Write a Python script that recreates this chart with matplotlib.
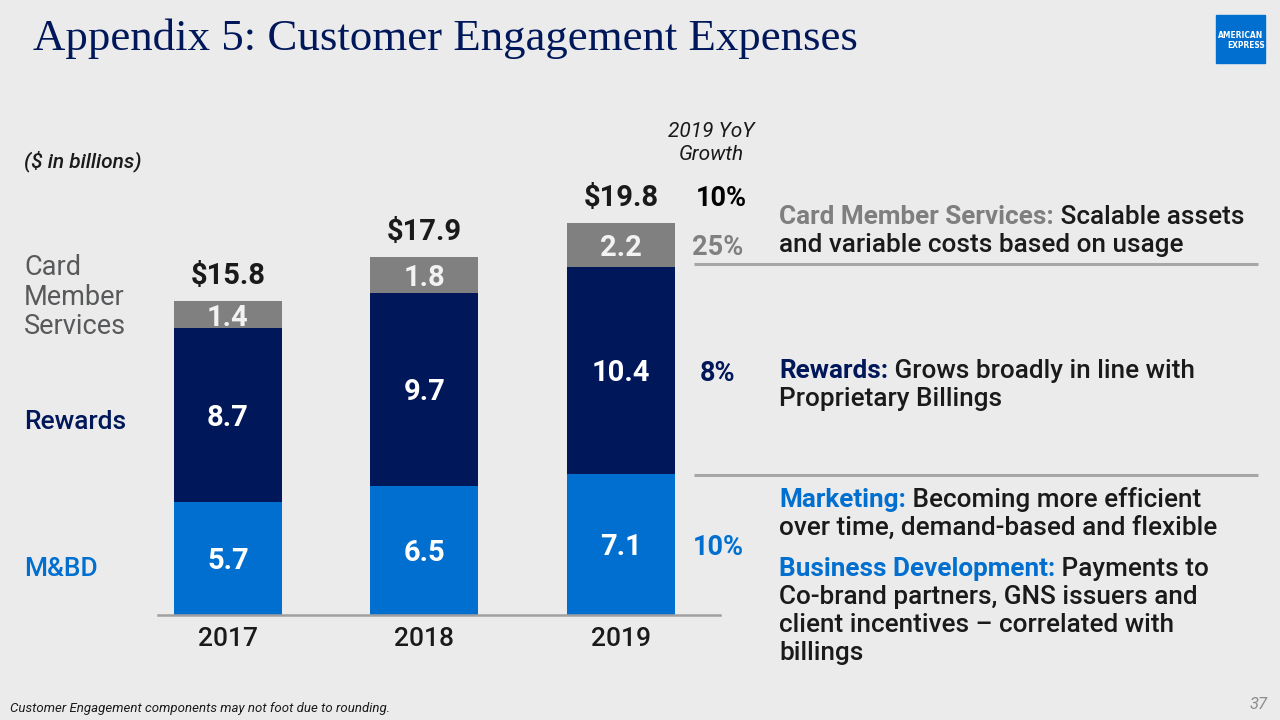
import matplotlib
matplotlib.use("Agg")
import matplotlib.pyplot as plt
from matplotlib.patches import Rectangle

# ---------------- data ----------------
years = ["2017", "2018", "2019"]
mbd = [5.7, 6.5, 7.1]
rewards = [8.7, 9.7, 10.4]
cms = [1.4, 1.8, 2.2]
totals = [15.8, 17.9, 19.8]
growth_total = "10%"
growth_cms = "25%"
growth_rewards = "8%"
growth_mbd = "10%"

# ---------------- style ----------------
BG = "#EBEBEB"
NAVY = "#00175A"
BLUE = "#006FCF"
GREY = "#808080"
DARK = "#1A1A1A"
LGREY = "#58595B"
FONT = ["Roboto", "DejaVu Sans"]
plt.rcParams["font.family"] = FONT

fig = plt.figure(figsize=(12.8, 7.2), dpi=100)
fig.patch.set_facecolor(BG)

# bar axes (pixel layout: baseline at y=615, 19.9 px per unit)
PX_PER_UNIT = 19.9
YMAX = 25
ax = fig.add_axes([158 / 1280, 105 / 720, 562 / 1280, YMAX * PX_PER_UNIT / 720])
ax.set_facecolor("none")
x = list(range(len(years)))
w = 0.55
bot2 = [a + b for a, b in zip(mbd, rewards)]
ax.bar(x, mbd, width=w, color=BLUE, zorder=2)
ax.bar(x, rewards, width=w, bottom=mbd, color=NAVY, zorder=2)
ax.bar(x, cms, width=w, bottom=bot2, color=GREY, zorder=2)
ax.set_xlim(-0.356, -0.356 + 562 / 196.5)
ax.set_ylim(0, YMAX)
for s in ["top", "left", "right"]:
    ax.spines[s].set_visible(False)
ax.spines["bottom"].set_color("#A0A0A0")
ax.spines["bottom"].set_linewidth(1.8)
ax.set_yticks([])
ax.set_xticks(x)
ax.set_xticklabels(years, fontsize=19, color=DARK, fontweight="medium")
ax.tick_params(axis="x", length=0, pad=9)

for i in x:
    ax.text(i, mbd[i] / 2, f"{mbd[i]:.1f}", ha="center", va="center_baseline",
            color="white", fontsize=21, fontweight="bold", zorder=3)
    ax.text(i, mbd[i] + rewards[i] / 2, f"{rewards[i]:.1f}", ha="center",
            va="center_baseline", color="white", fontsize=21, fontweight="bold", zorder=3)
    ax.text(i, bot2[i] + cms[i] / 2, f"{cms[i]:.1f}", ha="center",
            va="center_baseline", color="#F2F2F2", fontsize=21, fontweight="bold", zorder=3)
    top = bot2[i] + cms[i]
    ax.annotate(f"${totals[i]:.1f}", xy=(i, top), xytext=(0, 17),
                textcoords="offset pixels", ha="center", va="baseline",
                fontsize=21, fontweight="bold", color=DARK)

# growth column for 2019
gi = 2
gx_off = 97
ax.annotate(growth_total, xy=(gi, bot2[gi] + cms[gi]), xytext=(gx_off + 3, 17),
            textcoords="offset pixels", ha="center", va="baseline",
            fontsize=19.5, fontweight="bold", color="black")
ax.annotate(growth_cms, xy=(gi, bot2[gi] + cms[gi] / 2), xytext=(gx_off, 0),
            textcoords="offset pixels", ha="center", va="center_baseline",
            fontsize=19.5, fontweight="bold", color=GREY)
ax.annotate(growth_rewards, xy=(gi, mbd[gi] + rewards[gi] / 2), xytext=(gx_off, 0),
            textcoords="offset pixels", ha="center", va="center_baseline",
            fontsize=19.5, fontweight="bold", color=NAVY)
ax.annotate(growth_mbd, xy=(gi, mbd[gi] / 2), xytext=(gx_off, 0),
            textcoords="offset pixels", ha="center", va="center_baseline",
            fontsize=19.5, fontweight="bold", color=BLUE)

# ---------------- overlay in pixel coords ----------------
ov = fig.add_axes([0, 0, 1, 1])
ov.set_xlim(0, 1280)
ov.set_ylim(720, 0)
ov.axis("off")
ov.set_facecolor("none")

# title
ov.text(33, 50, "Appendix 5: Customer Engagement Expenses", fontsize=32.3,
        family=["Liberation Serif", "DejaVu Serif"], color=NAVY, va="baseline",
        ha="left")

# logo
ov.add_patch(Rectangle((1216, 15), 49, 48, color="#016FD0", zorder=5))
ov.text(1240.5, 36, "AMERICAN", color="white", fontsize=6, fontweight="bold",
        ha="center", va="center", zorder=6, family=["DejaVu Sans"], fontstretch="condensed")
ov.text(1246, 46, "EXPRESS", color="white", fontsize=6, fontweight="bold",
        ha="center", va="center", zorder=6, family=["DejaVu Sans"], fontstretch="condensed")

# units
ov.text(24, 167, "($ in billions)", fontsize=15, style="italic", fontweight="medium",
        color=DARK, va="baseline")
ov.text(711, 137, "2019 YoY", fontsize=15, style="italic", color=DARK,
        va="baseline", ha="center")
ov.text(711, 160, "Growth", fontsize=15, style="italic", color=DARK,
        va="baseline", ha="center")

# left segment labels
for yy, t in zip([275, 305, 334], ["Card", "Member", "Services"]):
    ov.text(24, yy, t, fontsize=19.5, color=LGREY, va="baseline")
ov.text(24, 429, "Rewards", fontsize=19, color=NAVY, va="baseline", fontweight="medium")
ov.text(24, 576, "M&BD", fontsize=19, color=BLUE, va="baseline", fontweight="medium")

# right commentary
BODY = 18.8


def rich(xp, yp, parts):
    prev = None
    for txt, col, wt in parts:
        if prev is None:
            prev = ov.text(xp, yp, txt, fontsize=BODY, color=col, fontweight=wt,
                           va="baseline", ha="left")
        else:
            prev = ov.annotate(txt, xy=(1, 0), xycoords=prev, fontsize=BODY,
                               color=col, fontweight=wt, va="bottom", ha="left")
    return prev


rich(779, 224, [("Card Member Services:", "#7F7F7F", "bold"),
                (" Scalable assets", DARK, "medium")])
rich(779, 252, [("and variable costs based on usage", DARK, "medium")])
rich(779, 378, [("Rewards:", NAVY, "bold"),
                (" Grows broadly in line with", DARK, "medium")])
rich(779, 406, [("Proprietary Billings", DARK, "medium")])
rich(779, 507, [("Marketing:", BLUE, "bold"),
                (" Becoming more efficient", DARK, "medium")])
rich(779, 535, [("over time, demand-based and flexible", DARK, "medium")])
rich(779, 576, [("Business Development:", BLUE, "bold"),
                (" Payments to", DARK, "medium")])
rich(779, 604, [("Co-brand partners, GNS issuers and", DARK, "medium")])
rich(779, 632, [("client incentives \u2013 correlated with", DARK, "medium")])
rich(779, 660, [("billings", DARK, "medium")])

# separators
for yy in [264, 475]:
    ov.plot([694, 1258], [yy, yy], color="#A6A6A6", lw=2.2, solid_capstyle="butt")

# footer
ov.text(10, 712, "Customer Engagement components may not foot due to rounding.",
        fontsize=9.5, style="italic", color=DARK, va="baseline")
ov.text(1268, 709, "37", fontsize=12, style="italic", color="#8C8C8C",
        va="baseline", ha="right")

fig.savefig("out.png", dpi=100, facecolor=BG)
